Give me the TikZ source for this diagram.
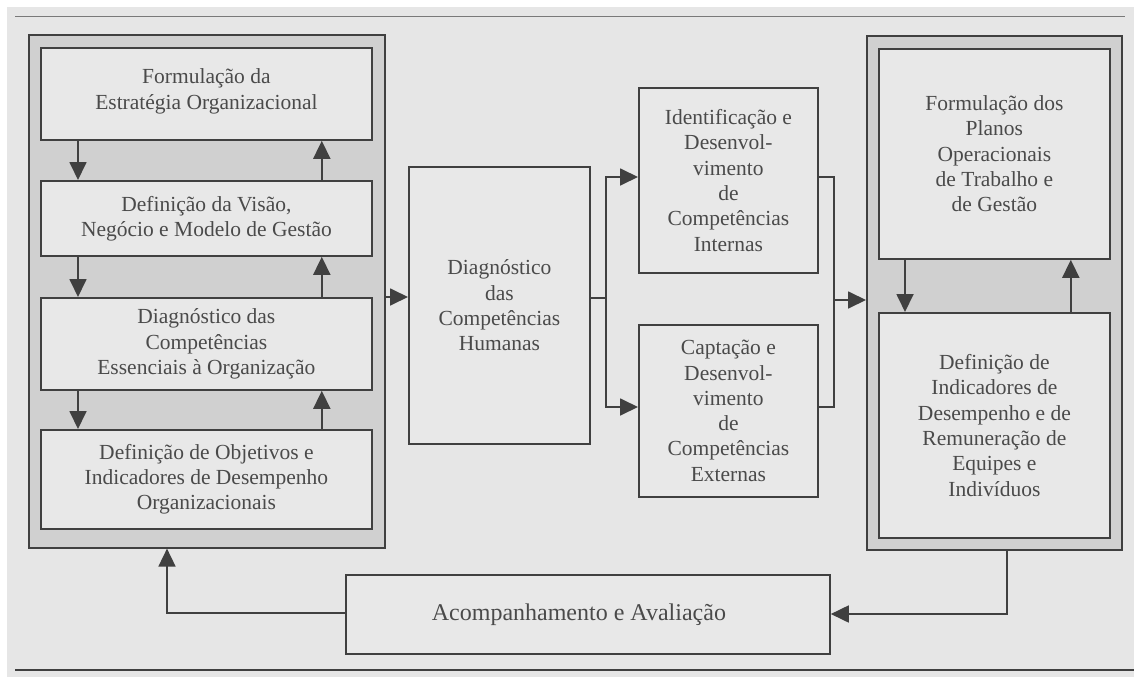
\documentclass[tikz,border=0pt]{standalone}
\usepackage{fontspec}
\setmainfont{Liberation Serif}
\usetikzlibrary{arrows.meta}
\definecolor{bg}{HTML}{E6E6E6}
\definecolor{shade}{HTML}{D0D0D0}
\definecolor{boxfill}{HTML}{E8E8E8}
\definecolor{ln}{HTML}{404040}
\definecolor{tx}{HTML}{4A4A4A}
\begin{document}
\begin{tikzpicture}[x=1pt,y=-1pt,
  box/.style={draw=ln, line width=1.8pt, fill=boxfill, anchor=north west, inner sep=0pt,
    align=center, text=tx, font=\fontsize{21.5}{25.3}\selectfont},
  outerbox/.style={draw=ln, line width=1.6pt, fill=shade, anchor=north west, inner sep=0pt},
  conn/.style={draw=ln, line width=1.8pt},
  arr/.style={conn, -{Triangle[length=18pt,width=17pt]}},
]
\useasboundingbox (0,0) rectangle (1134,677);
\fill[white] (0,0) rectangle (1134,677);
\fill[bg] (7,7) rectangle (1134,677);
\draw[ln!70, line width=1pt] (15,17) -- (1125,17);
\draw[ln, line width=1.4pt] (15,670) -- (1134,670);

% left group
\node[outerbox, minimum width=356pt, minimum height=513pt] (L) at (28,34) {};
\node[box, minimum width=331pt, minimum height=92pt, text depth=10pt] (b1) at (40,47)
  {Formulação da\\Estratégia Organizacional};
\node[box, minimum width=331pt, minimum height=75pt] (b2) at (40,180)
  {Definição da Visão,\\Negócio e Modelo de Gestão};
\node[box, minimum width=331pt, minimum height=92pt] (b3) at (40,297)
  {Diagnóstico das\\Competências\\Essenciais à Organização};
\node[box, minimum width=331pt, minimum height=99pt] (b4) at (40,429)
  {Definição de Objetivos e\\Indicadores de Desempenho\\Organizacionais};

% middle
\node[box, minimum width=181pt, minimum height=277pt] (D) at (408,166)
  {Diagnóstico\\das\\Competências\\Humanas};
\node[box, minimum width=179pt, minimum height=185pt] (I) at (638,87)
  {Identificação e\\Desenvol-\\vimento\\de\\Competências\\Internas};
\node[box, minimum width=179pt, minimum height=172pt] (C) at (638,324)
  {Captação e\\Desenvol-\\vimento\\de\\Competências\\Externas};

% right group
\node[outerbox, minimum width=255pt, minimum height=514pt] (R) at (866,35) {};
\node[box, minimum width=231pt, minimum height=210pt] (r1) at (878,48)
  {Formulação dos\\Planos\\Operacionais\\de Trabalho e\\de Gestão};
\node[box, minimum width=231pt, minimum height=225pt] (r2) at (878,312)
  {Definição de\\Indicadores de\\Desempenho e de\\Remuneração de\\Equipes e\\Indivíduos};

% bottom
\node[box, minimum width=484pt, minimum height=79pt, font=\fontsize{24}{28}\selectfont] (A) at (345,574)
  {\hspace*{-18pt}Acompanhamento e Avaliação};

% left column arrows
\draw[arr] ([xshift=38pt]b1.south west) -- ([xshift=38pt]b2.north west);
\draw[arr] ([xshift=-51pt]b2.north east) -- ([xshift=-51pt]b1.south east);
\draw[arr] ([xshift=38pt]b2.south west) -- ([xshift=38pt]b3.north west);
\draw[arr] ([xshift=-51pt]b3.north east) -- ([xshift=-51pt]b2.south east);
\draw[arr] ([xshift=38pt]b3.south west) -- ([xshift=38pt]b4.north west);
\draw[arr] ([xshift=-51pt]b4.north east) -- ([xshift=-51pt]b3.south east);

% right column arrows
\draw[arr] ([xshift=27pt]r1.south west) -- ([xshift=27pt]r2.north west);
\draw[arr] ([xshift=-40pt]r2.north east) -- ([xshift=-40pt]r1.south east);

% middle connectors
\coordinate (sp) at (606,298);
\coordinate (jn) at (834,300);
\draw[arr] (L.east |- 0,297) -- (D.west |- 0,297);
\draw[conn] (D.east |- sp) -- (sp);
\draw[arr] (sp) |- (I.west |- 0,177);
\draw[arr] (sp) |- (C.west |- 0,407);
\draw[conn] (I.east |- 0,177) -| (jn |- 0,407) -- (C.east |- 0,407);
\draw[arr] (jn) -- (R.west |- jn);

% feedback
\draw[arr] (A.west |- 0,613) -| (L.south -| 167,0);
\draw[arr] (R.south -| 1007,0) |- (A.east |- 0,614);
\end{tikzpicture}
\end{document}
